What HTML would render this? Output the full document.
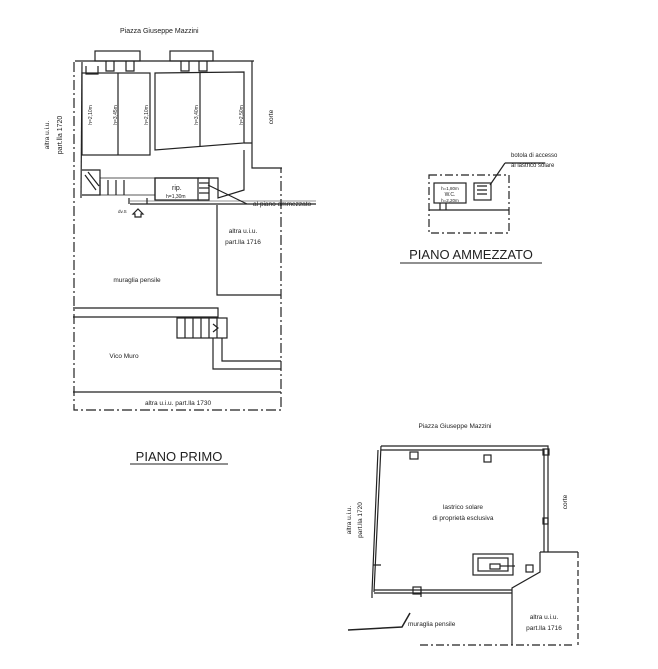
<!DOCTYPE html>
<html><head><meta charset="utf-8"><style>
html,body{margin:0;padding:0;background:#fff;width:658px;height:669px;overflow:hidden}
svg{display:block}
text{font-family:"Liberation Sans",sans-serif;fill:#222}
</style></head><body>
<svg width="658" height="669" viewBox="0 0 658 669" xmlns="http://www.w3.org/2000/svg">
<g stroke="#222" fill="none" stroke-width="1.2">
<!-- TOP-LEFT PLAN -->
<rect x="95" y="51" width="45" height="10"/>
<rect x="170" y="51" width="43" height="10"/>
<line x1="75" y1="61" x2="254" y2="61"/>
<path d="M106 61 v10 h8 v-10 M126 61 v10 h8 v-10"/>
<path d="M181 61 v10 h8 v-10 M199 61 v10 h8 v-10"/>
<line x1="82" y1="62" x2="81" y2="198"/>
<path d="M86 66 v8 h12 v-8" />
<rect x="82" y="73" width="68" height="82"/>
<line x1="118" y1="73" x2="118" y2="155"/>
<path d="M155 73 L244 72 L244 143 L155 150 Z"/>
<line x1="200" y1="72" x2="200" y2="146"/>
<path d="M244 143 L252 143 M252 61 L252 168 L282 168"/>
<path d="M244 150 L244 190 L218 198 L218 178 L155 178 L155 200"/>
<rect x="155" y="178" width="43" height="22"/>
<path d="M198 178 h11 v22 h-11" />
<line x1="199" y1="183" x2="209" y2="183"/><line x1="199" y1="188" x2="209" y2="188"/><line x1="199" y1="193" x2="209" y2="193"/>
<path d="M82 170 L100 170 L100 195 L82 195"/>
<path d="M100 178 h55 M100 195 h55" stroke-width="0.8"/>
<path d="M85 175 L96 190 M88 172 L99 186 M100 180 V195 M108 180 V195 M116 180 V195 M124 180 V195"/>
<line x1="130" y1="204" x2="316" y2="204"/>
<line x1="130" y1="201" x2="316" y2="201" stroke-width="0.6"/>
<path d="M129 198 v6 M147 198 v6"/>
<path d="M133 214 l5 -5 l5 5 h-2 v3 h-6 v-3 z"/>
<line x1="208" y1="185" x2="247" y2="204"/>
<!-- dashed outer -->
<path d="M74 62 V410 H281 V168" stroke-dasharray="10,3,2,3"/>
<!-- 1716 -->
<path d="M217 205 V295 H281"/>
<!-- Vico Muro -->
<path d="M73 308 H218 V318 M73 317 H218"/>
<rect x="177" y="318" width="50" height="20"/>
<path d="M185 318 v20 M193 318 v20 M201 318 v20 M209 318 v20 M217 318 v20 M213 324 l5 4 l-5 4"/>
<path d="M213 338 V369 H281 M222 338 V361 H281"/>
<line x1="73" y1="392" x2="281" y2="392"/>
<line x1="130" y1="464" x2="228" y2="464" stroke-width="1"/>
<!-- MEZZANINE -->
<rect x="429" y="175" width="80" height="58" stroke-dasharray="8,3,2,3"/>
<rect x="434" y="183" width="32" height="20"/>
<rect x="474" y="183" width="17" height="17"/>
<path d="M477 186 h10 M477 190 h10 M477 194 h10"/>
<path d="M429 210 h80 M440 203 v7 M446 203 v7"/>
<line x1="490" y1="185" x2="505" y2="163"/><line x1="505" y1="163" x2="545" y2="163"/>
<line x1="400" y1="263" x2="542" y2="263" stroke-width="1"/>
<!-- ROOF TERRACE -->
<path d="M381 446 L548 446 L548 552 M381 450 L544 450 L544 552"/>
<path d="M381 446 L374 592 M378 450 L372 592" />
<path d="M374 590 L512 590 M374 593 L512 593"/>
<path d="M540 552 H578 M540 552 V572 L512 588 V645"/>
<path d="M578 552 V645 M372 592 V600" stroke-dasharray="6,3"/>
<path d="M420 645 H575" stroke-dasharray="8,3,2,3"/>
<rect x="410" y="452" width="8" height="7"/><rect x="484" y="455" width="7" height="7"/>
<rect x="543" y="449" width="6" height="6"/><rect x="543" y="518" width="5" height="6"/>
<rect x="413" y="587" width="8" height="7"/><rect x="526" y="565" width="7" height="7"/>
<rect x="473" y="554" width="40" height="21"/><rect x="478" y="558" width="30" height="13"/>
<rect x="490" y="564" width="10" height="5"/><line x1="500" y1="566" x2="515" y2="566"/>
<path d="M373 565 h8 M421 589 v8"/>
<path d="M348 630 L402 627 L410 613" stroke-width="1.5"/>
</g>
<g font-size="6.5">
<text x="120" y="33" font-size="7">Piazza Giuseppe Mazzini</text>
<text transform="translate(49,135) rotate(-90)" text-anchor="middle">altra u.i.u.</text>
<text transform="translate(62,135) rotate(-90)" text-anchor="middle" font-size="7">part.lla 1720</text>
<text transform="translate(273,117) rotate(-90)" text-anchor="middle">corte</text>
<text transform="translate(92,115) rotate(-90)" text-anchor="middle" font-size="5">h=2,10m</text>
<text transform="translate(117,115) rotate(-90)" text-anchor="middle" font-size="5">h=3,45m</text>
<text transform="translate(148,115) rotate(-90)" text-anchor="middle" font-size="5">h=2,10m</text>
<text transform="translate(198,115) rotate(-90)" text-anchor="middle" font-size="5">h=3,40m</text>
<text transform="translate(243,115) rotate(-90)" text-anchor="middle" font-size="5">h=2,50m</text>
<text x="172" y="190" font-size="7">rip.</text>
<text x="166" y="198" font-size="5">h=1,30m</text>
<text x="253" y="206">al piano ammezzato</text>
<text x="118" y="213" font-size="4.5">dv.S</text>
<text x="243" y="233" text-anchor="middle">altra u.i.u.</text>
<text x="243" y="244" text-anchor="middle">part.lla 1716</text>
<text x="137" y="282" text-anchor="middle">muraglia pensile</text>
<text x="124" y="358" text-anchor="middle">Vico Muro</text>
<text x="178" y="405" text-anchor="middle">altra u.i.u. part.lla 1730</text>
<text x="179" y="461" text-anchor="middle" font-size="13">PIANO PRIMO</text>
<text x="450" y="190" text-anchor="middle" font-size="4.5">h=1,80m</text>
<text x="450" y="196" text-anchor="middle" font-size="5">W.C.</text>
<text x="450" y="202" text-anchor="middle" font-size="4.5">h=2,20m</text>
<text x="511" y="157" font-size="6">botola di accesso</text>
<text x="511" y="167" font-size="6">al lastrico solare</text>
<text x="471" y="259" text-anchor="middle" font-size="13">PIANO AMMEZZATO</text>
<text x="455" y="428" text-anchor="middle">Piazza Giuseppe Mazzini</text>
<text x="463" y="509" text-anchor="middle">lastrico solare</text>
<text x="463" y="520" text-anchor="middle">di proprietà esclusiva</text>
<text transform="translate(567,502) rotate(-90)" text-anchor="middle">corte</text>
<text transform="translate(351,520) rotate(-90)" text-anchor="middle">altra u.i.u.</text>
<text transform="translate(362,520) rotate(-90)" text-anchor="middle">part.lla 1720</text>
<text x="408" y="626">muraglia pensile</text>
<text x="544" y="619" text-anchor="middle">altra u.i.u.</text>
<text x="544" y="630" text-anchor="middle">part.lla 1716</text>
</g>
</svg>
</body></html>
